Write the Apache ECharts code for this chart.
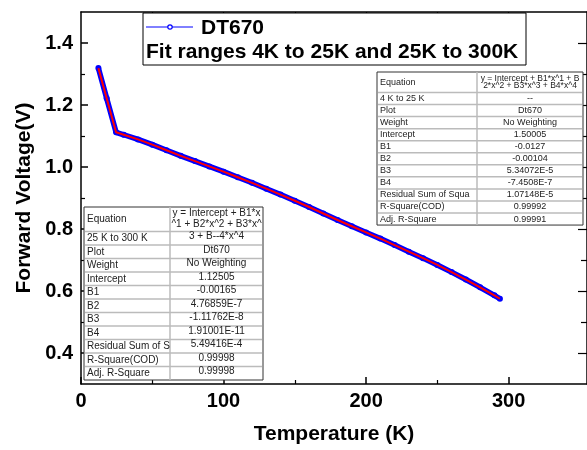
<!DOCTYPE html>
<html>
<head>
<meta charset="utf-8">
<script src="https://cdn.jsdelivr.net/npm/echarts@6/dist/echarts.min.js"></script>
<style>
  html, body { margin: 0; padding: 0; background: #fff; }
  #chart { width: 587px; height: 450px; }
</style>
</head>
<body>
<div id="chart"></div>
<script>
// 数据：温度 (K) 与正向电压 (V)
var temps = [12.2, 18, 24.6, 30, 40, 50, 60, 70, 80, 90, 100, 110, 120, 130, 140, 150, 160, 170, 180, 190, 200, 210, 220, 230, 240, 250, 260, 270, 280, 290, 293.9];
var volts = [1.319, 1.222, 1.112, 1.104, 1.089, 1.072, 1.054, 1.036, 1.019, 1.002, 0.985, 0.967, 0.949, 0.930, 0.911, 0.891, 0.871, 0.850, 0.829, 0.809, 0.789, 0.769, 0.748, 0.727, 0.706, 0.684, 0.661, 0.637, 0.612, 0.586, 0.575];

// 刻度
var xMajor = [0, 100, 200, 300];
var xMinor = [50, 150, 250];
var xTop = [50, 100, 150, 200, 250, 300];
var yMajor = [0.4, 0.6, 0.8, 1.0, 1.2, 1.4];
var yMinor = [0.5, 0.7, 0.9, 1.1, 1.3];

// 拟合结果表
var fitLowLabels = ['4 K to 25 K', 'Plot', 'Weight', 'Intercept', 'B1', 'B2', 'B3', 'B4', 'Residual Sum of Squa', 'R-Square(COD)', 'Adj. R-Square'];
var fitLowValues = ['--', 'Dt670', 'No Weighting', '1.50005', '-0.0127', '-0.00104', '5.34072E-5', '-7.4508E-7', '1.07148E-5', '0.99992', '0.99991'];
var fitLowEquation = ['y = Intercept + B1*x^1 + B', '2*x^2 + B3*x^3 + B4*x^4'];

var fitHighLabels = ['25 K to 300 K', 'Plot', 'Weight', 'Intercept', 'B1', 'B2', 'B3', 'B4', 'Residual Sum of S', 'R-Square(COD)', 'Adj. R-Square'];
var fitHighValues = ['3 + B--4*x^4', 'Dt670', 'No Weighting', '1.12505', '-0.00165', '4.76859E-7', '-1.11762E-8', '1.91001E-11', '5.49416E-4', '0.99998', '0.99998'];
var fitHighEquation = ['y = Intercept + B1*x', '^1 + B2*x^2 + B3*x^'];

var seriesName = 'DT670';
var legendNote = 'Fit ranges 4K to 25K and 25K to 300K';

var points = temps.map(function (t, i) { return [t, volts[i]]; });

var FONT = '"Liberation Sans", Arial, sans-serif';
var black = '#000';

// 画一个 Origin 风格的参数表
function makeTable(t) {
    var els = [];
    var x1 = t.x + t.w;
    var bottom = t.y + t.headH + t.rowH * t.labels.length;
    els.push({ type: 'rect', silent: true, z: 10,
        shape: { x: t.x, y: t.y, width: t.w, height: bottom - t.y },
        style: { fill: '#fff', stroke: '#333', lineWidth: 1 } });
    els.push({ type: 'line', silent: true, z: 11,
        shape: { x1: t.colX, y1: t.y, x2: t.colX, y2: bottom },
        style: { stroke: '#bbb', lineWidth: 1.5 } });
    for (var i = 0; i < t.labels.length; i++) {
        var ry = t.y + t.headH + t.rowH * i;
        els.push({ type: 'line', silent: true, z: 11,
            shape: { x1: t.x + 1, y1: ry, x2: x1 - 1, y2: ry },
            style: { stroke: '#bbb', lineWidth: 1.5 } });
        els.push({ type: 'text', silent: true, z: 12, x: t.x + 3, y: ry + t.rowH / 2,
            style: { text: t.labels[i], font: t.size + 'px ' + FONT, fill: '#222',
                textAlign: 'left', textVerticalAlign: 'middle' } });
        els.push({ type: 'text', silent: true, z: 12, x: (t.colX + x1) / 2, y: ry + t.rowH / 2 + t.valShift,
            style: { text: t.values[i], font: t.size + 'px ' + FONT, fill: '#222',
                textAlign: 'center', textVerticalAlign: 'middle' } });
    }
    els.push({ type: 'text', silent: true, z: 12, x: t.x + 3, y: t.y + t.headH / 2,
        style: { text: 'Equation', font: t.size + 'px ' + FONT, fill: '#222',
            textAlign: 'left', textVerticalAlign: 'middle' } });
    t.equation.forEach(function (line, k) {
        els.push({ type: 'text', silent: true, z: 12, x: (t.colX + x1) / 2, y: t.eqY + k * t.eqGap,
            style: { text: line, font: t.eqSize + 'px ' + FONT, fill: '#222',
                textAlign: 'center', textVerticalAlign: 'middle' } });
    });
    return els;
}

var graphics = [];
// 图例框
graphics.push({ type: 'rect', silent: true, z: 10,
    shape: { x: 143, y: 13, width: 383, height: 52 },
    style: { fill: '#fff', stroke: black, lineWidth: 1 } });
graphics.push({ type: 'line', silent: true, z: 11,
    shape: { x1: 146, y1: 27, x2: 193, y2: 27 },
    style: { stroke: '#0000ff', lineWidth: 1 } });
graphics.push({ type: 'circle', silent: true, z: 12,
    shape: { cx: 170, cy: 27, r: 2.2 },
    style: { fill: '#fff', stroke: '#0000ff', lineWidth: 1.2 } });
graphics.push({ type: 'text', silent: true, z: 12, x: 201, y: 28,
    style: { text: seriesName, font: 'bold 21px ' + FONT, fill: black, textVerticalAlign: 'middle' } });
graphics.push({ type: 'text', silent: true, z: 12, x: 146, y: 52,
    style: { text: legendNote, font: 'bold 21px ' + FONT, fill: black, textVerticalAlign: 'middle' } });

graphics = graphics.concat(makeTable({
    x: 377, y: 72, w: 206, colX: 477, headH: 20.5, rowH: 12.05, size: 9, valShift: 0,
    labels: fitLowLabels, values: fitLowValues,
    equation: fitLowEquation, eqY: 78.5, eqGap: 7.5, eqSize: 8.5
}));
graphics = graphics.concat(makeTable({
    x: 84, y: 207, w: 179, colX: 170, headH: 24.5, rowH: 13.5, size: 10, valShift: -2,
    labels: fitHighLabels, values: fitHighValues,
    equation: fitHighEquation, eqY: 213.5, eqGap: 11, eqSize: 10
}));

function axisBase() {
    return {
        type: 'value', min: 0, max: 355, splitLine: { show: false },
        axisLine: { show: true, onZero: false, lineStyle: { color: black, width: 1.5 } }
    };
}

var gridBox = { left: 81, right: -4, top: 12, bottom: 66 };

var option = {
    animation: false,
    backgroundColor: '#fff',
    grid: [
        Object.assign({}, gridBox),
        Object.assign({}, gridBox)
    ],
    graphic: { elements: graphics },
    xAxis: [
        Object.assign(axisBase(), {
            gridIndex: 0, position: 'bottom',
            name: 'Temperature (K)', nameLocation: 'middle', nameGap: 40,
            nameTextStyle: { fontFamily: FONT, fontWeight: 'bold', fontSize: 21, color: black },
            axisTick: { inside: true, length: 7, customValues: xMajor, lineStyle: { color: black, width: 1.5 } },
            axisLabel: { customValues: xMajor, margin: 7, fontFamily: FONT, fontWeight: 'bold', fontSize: 20, color: black }
        }),
        Object.assign(axisBase(), {
            gridIndex: 0, position: 'top',
            axisTick: { inside: true, length: 5, customValues: xTop, lineStyle: { color: black, width: 1.2 } },
            axisLabel: { show: false }
        }),
        Object.assign(axisBase(), {
            gridIndex: 1, position: 'bottom', axisLine: { show: false },
            axisTick: { inside: true, length: 4, customValues: xMinor, lineStyle: { color: black, width: 1.2 } },
            axisLabel: { show: false }
        })
    ],
    yAxis: [
        {
            type: 'value', gridIndex: 0, position: 'left', min: 0.3, max: 1.5,
            splitLine: { show: false },
            axisLine: { show: true, onZero: false, lineStyle: { color: black, width: 1.5 } },
            name: 'Forward Voltage(V)', nameLocation: 'middle', nameGap: 46,
            nameTextStyle: { fontFamily: FONT, fontWeight: 'bold', fontSize: 21, color: black },
            axisTick: { inside: true, length: 7, customValues: yMajor, lineStyle: { color: black, width: 1.5 } },
            axisLabel: { customValues: yMajor, margin: 8, fontFamily: FONT, fontWeight: 'bold', fontSize: 20, color: black,
                formatter: function (v) { return v.toFixed(1); } }
        },
        {
            type: 'value', gridIndex: 0, position: 'right', min: 0.3, max: 1.5,
            splitLine: { show: false },
            axisLine: { show: true, onZero: false, lineStyle: { color: black, width: 1.5 } },
            axisTick: { inside: true, length: 9, customValues: yMajor, lineStyle: { color: black, width: 1.2 } },
            axisLabel: { show: false }
        },
        {
            type: 'value', gridIndex: 1, position: 'left', min: 0.3, max: 1.5,
            splitLine: { show: false }, axisLine: { show: false },
            axisTick: { inside: true, length: 4, customValues: yMinor, lineStyle: { color: black, width: 1.2 } },
            axisLabel: { show: false }
        },
        {
            type: 'value', gridIndex: 1, position: 'right', min: 0.3, max: 1.5,
            splitLine: { show: false }, axisLine: { show: false },
            axisTick: { inside: true, length: 6, customValues: yMinor, lineStyle: { color: black, width: 1.2 } },
            axisLabel: { show: false }
        }
    ],
    series: [
        {
            name: seriesName, type: 'line', xAxisIndex: 0, yAxisIndex: 0,
            data: points, symbol: 'circle', symbolSize: 6,
            itemStyle: { color: '#0000ff' },
            lineStyle: { color: '#0000ff', width: 5.5 },
            z: 3
        },
        {
            name: 'Fit', type: 'line', xAxisIndex: 0, yAxisIndex: 0,
            data: points, symbol: 'none',
            lineStyle: { color: '#ff0000', width: 2 },
            z: 4
        }
    ]
};

var chart = echarts.init(document.getElementById('chart'));
chart.setOption(option);
</script>
</body>
</html>
